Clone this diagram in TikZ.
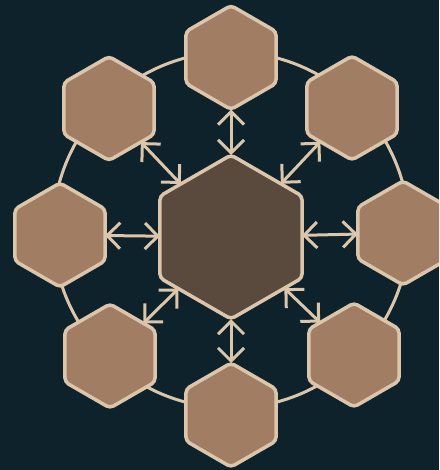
\documentclass[tikz,border=0pt]{standalone}
\usetikzlibrary{shapes.geometric,arrows.meta}
\definecolor{bgc}{HTML}{0E222B}
\definecolor{linec}{HTML}{DCC6AB}
\definecolor{outerc}{HTML}{A17D64}
\definecolor{innerc}{HTML}{5A4A3D}
\tikzset{
  hexbase/.style={regular polygon, regular polygon sides=6, shape border rotate=30,
    inner sep=0pt, outer sep=0pt, draw=linec, line width=3.5pt, rounded corners=4pt},
  outerhex/.style={hexbase, fill=outerc, minimum size=104pt},
  innerhex/.style={hexbase, fill=innerc, minimum size=164pt},
  link/.style={draw=linec, line width=3pt, {Straight Barb[length=13pt,width=26pt]}-{Straight Barb[length=13pt,width=26pt]}},
  ring/.style={draw=linec, line width=3pt}
}
\begin{document}
\begin{tikzpicture}[x=1pt,y=-1pt]
\fill[bgc] (0,0) rectangle (439,470);
\useasboundingbox (0,0) rectangle (439,470);
\clip (0,0) rectangle (439,470);
\coordinate (ringc) at (231,230);
\draw[ring] (ringc) circle[radius=178pt];
\node[innerhex] (c) at (231,237) {};
\node[outerhex] (t) at (231,57.5) {};
\node[outerhex] (tr) at (352,108) {};
\node[outerhex] (r) at (403,233) {};
\node[outerhex] (br) at (354,355) {};
\node[outerhex] (b) at (231,415) {};
\node[outerhex] (bl) at (110,356) {};
\node[outerhex] (l) at (60,235) {};
\node[outerhex] (tl) at (109,108.5) {};
\foreach \n in {t,tr,r,br,b,bl,l,tl}{
  \draw[link] (\n) -- (c);
}
\end{tikzpicture}
\end{document}
